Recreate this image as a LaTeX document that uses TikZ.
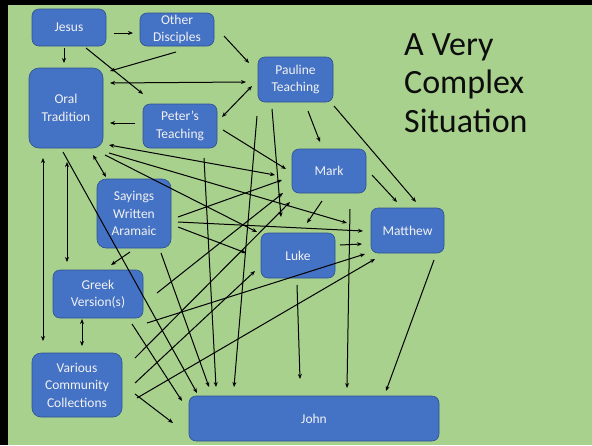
\documentclass[tikz,border=0pt]{standalone}
\usepackage{fontspec}
\setmainfont{Carlito}
\usetikzlibrary{arrows.meta}
\definecolor{bggreen}{HTML}{A9D18E}
\definecolor{boxblue}{HTML}{4472C4}
\definecolor{boxedge}{HTML}{2F528F}
\definecolor{boxtext}{HTML}{F2F2F2}
\begin{document}
\begin{tikzpicture}[x=1pt,y=-1pt,
  box/.style={draw=boxedge,line width=0.6pt,fill=boxblue,rounded corners=7pt,
    text=boxtext,align=center,inner sep=0pt,
    font=\fontsize{13.5}{17.5}\selectfont},
  arr/.style={line width=1pt,-{Stealth[length=5pt,width=4pt]}},
  darr/.style={line width=1pt,{Stealth[length=5pt,width=4pt]}-{Stealth[length=5pt,width=4pt]}},
  ttl/.style={anchor=base west,inner sep=0pt,font=\fontsize{34}{38}\selectfont,text=black!95}]
\useasboundingbox (0,0) rectangle (592,445);
\fill[bggreen] (0,0) rectangle (592,445);
\fill[black] (0,0) rectangle (8,445);
\fill[black] (0,0) rectangle (592,5);
% nodes
\node[box,minimum width=74pt,minimum height=37pt] (jesus) at (69,27.5) {Jesus};
\node[box,minimum width=74pt,minimum height=33pt] (other) at (177,29.5) {Other\\Disciples};
\node[box,minimum width=74pt,minimum height=80pt,rounded corners=10pt] (oral) at (66,108) {Oral\\Tradition};
\node[box,minimum width=74pt,minimum height=44pt] (peter) at (180,126) {Peter’s\\Teaching};
\node[box,minimum width=75pt,minimum height=45pt] (pauline) at (295.5,79.5) {Pauline\\Teaching};
\node[box,minimum width=74pt,minimum height=44pt] (mark) at (329,171) {Mark};
\node[box,minimum width=73pt,minimum height=45pt] (matthew) at (407.5,230.5) {Matthew};
\node[box,minimum width=74pt,minimum height=45pt] (luke) at (298,255.5) {Luke};
\node[box,minimum width=74pt,minimum height=69pt,rounded corners=9pt] (sayings) at (134,213.5) {Sayings\\Written\\Aramaic};
\node[box,minimum width=90pt,minimum height=48pt] (greek) at (98,294) {Greek\\Version(s)};
\node[box,minimum width=90pt,minimum height=64pt,rounded corners=9pt] (various) at (77,385) {Various\\Community\\Collections};
\node[box,minimum width=250pt,minimum height=45pt] (john) at (314,418.5) {John};
% title
\node[ttl] (t1) at (404,55) {A Very};
\node[ttl] (t2) at (404,93.5) {Complex};
\node[ttl] (t3) at (404,132) {Situation};
% arrows
\draw[arr] (114,33) -- (133,33);
\draw[arr] (64,48) -- (64,63);
\draw[arr] (86,48) -- (143,94);
\draw[arr] (176,52) -- (110,71);
\draw[arr] (224,36) -- (249,63);
\draw[darr] (110,83) -- (246,82);
\draw[darr] (222,117) -- (252,86);
\draw[arr] (135,123) -- (110,123);
\draw[darr] (109,145) -- (275,175);
\draw[arr] (109,153) -- (347,223);
\draw[arr] (105,155) -- (257,232);
\draw[darr] (93,155) -- (106,177);
\draw[darr] (43,158) -- (43,341);
\draw[darr] (67,162) -- (67,262);
\draw[arr] (63,152) -- (197,393);
\draw[arr] (223,130) -- (286,169);
\draw[arr] (204,158) -- (216,387);
\draw[arr] (257,116) -- (234,387);
\draw[arr] (272,109) -- (281,217);
\draw[arr] (308,111) -- (320,142);
\draw[arr] (334,106) -- (416,202);
\draw[arr] (178,217) -- (282,180);
\draw[arr] (178,222) -- (363,231);
\draw[arr] (178,227) -- (246,253);
\draw[arr] (130,252) -- (111,265);
\draw[arr] (161,253) -- (209,387);
\draw[darr] (82,319) -- (82,346);
\draw[arr] (157,293) -- (283,193);
\draw[arr] (147,323) -- (365,254);
\draw[arr] (132,324) -- (182,401);
\draw[arr] (135,358) -- (290,202);
\draw[arr] (135,383) -- (255,271);
\draw[arr] (137,398) -- (375,259);
\draw[arr] (135,394) -- (173,423);
\draw[arr] (322,201) -- (307,223);
\draw[arr] (372,175) -- (397,202);
\draw[arr] (350,209) -- (347,388);
\draw[arr] (340,245) -- (362,244);
\draw[arr] (297,285) -- (300,379);
\draw[arr] (434,260) -- (386,391);
\end{tikzpicture}
\end{document}
